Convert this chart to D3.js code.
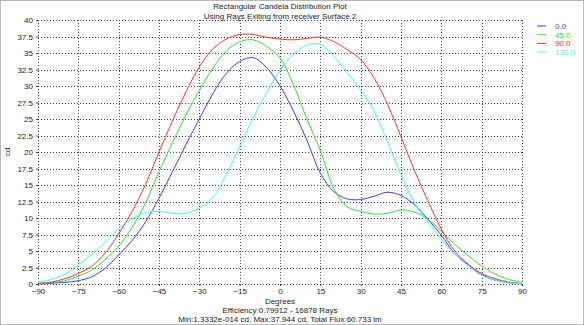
<!DOCTYPE html>
<html><head><meta charset="utf-8">
<script src="https://cdn.jsdelivr.net/npm/d3@7"></script>
<style>body{margin:0;background:#fff;}svg{display:block;}text{font-family:"Liberation Sans",Arial,sans-serif;}</style>
</head><body>
<script>
const degrees = [-90,-85,-80,-75,-70,-65,-60,-55,-50,-45,-40,-35,-30,-25,-20,-15,-10,-5,0,5,10,15,20,25,30,35,40,45,50,55,60,65,70,75,80,85,90];
const s0   = [0.0,0.1,0.25,0.5,1.1,2.4,4.4,6.6,9.4,13.0,17.0,21.1,25.0,28.8,31.9,33.7,34.3,32.8,30.0,26.2,21.8,16.8,14.0,12.9,12.8,13.3,13.9,13.4,12.0,9.8,7.4,4.6,2.9,1.4,0.6,0.2,0.05];
const s45  = [0.05,0.2,0.5,1.2,2.1,3.7,5.7,8.6,12.3,17.0,21.4,25.6,29.3,32.7,35.3,36.7,37.0,36.0,34.2,30.2,25.0,20.2,14.5,11.7,11.0,10.6,10.7,11.2,10.9,9.8,8.0,6.0,4.3,2.7,1.5,0.7,0.25];
const s90  = [0.1,0.3,0.8,1.6,2.7,4.7,7.6,11.0,15.1,20.0,24.7,29.1,32.9,35.6,37.1,37.8,37.8,37.4,37.1,37.0,37.2,37.4,36.7,35.5,34.0,31.2,27.2,22.3,17.2,12.6,8.3,5.0,3.0,1.6,0.8,0.3,0.05];
const s135 = [0.3,0.7,1.5,2.9,4.5,6.3,8.4,9.9,10.8,11.0,10.7,10.7,11.5,13.1,16.6,20.8,25.2,29.0,32.4,34.8,36.2,36.3,34.5,32.0,29.4,26.2,21.5,16.5,12.3,9.4,6.8,4.5,2.8,1.3,0.6,0.2,0.05];
const seriesNames = ["0.0","45.0","90.0","135.0"];
const seriesColors = ["#3a3aff","#2ee02e","#ff3030","#30ffff"];
const xTicks = [-90,-75,-60,-45,-30,-15,0,15,30,45,60,75,90];
const yTicks = [0,2.5,5,7.5,10,12.5,15,17.5,20,22.5,25,27.5,30,32.5,35,37.5,40];
const titleLines = ["Rectangular Candela Distribution Plot","Using Rays Exiting from receiver Surface 2"];
const footLines = ["Degrees","Efficiency:0.79912 - 16878 Rays","Min:1.3332e-014 cd, Max:37.944 cd, Total Flux:60.733 lm"];

const W=584,H=325;
const svg=d3.select("body").append("svg").attr("width",W).attr("height",H);
svg.append("rect").attr("x",0.5).attr("y",0.5).attr("width",W-1).attr("height",H-1).attr("fill","#fff").attr("stroke","#b8b8b8");

const x=d3.scaleLinear().domain([-90,90]).range([38,522]);
const y=d3.scaleLinear().domain([0,40]).range([284,20]);

const grid=svg.append("g").attr("stroke","#444").attr("stroke-width",1).attr("stroke-dasharray","1,2").attr("shape-rendering","crispEdges");
xTicks.forEach(t=>grid.append("line").attr("x1",Math.round(x(t))+0.5).attr("x2",Math.round(x(t))+0.5).attr("y1",y(40)).attr("y2",y(0)));
yTicks.forEach(t=>grid.append("line").attr("y1",Math.round(y(t))+0.5).attr("y2",Math.round(y(t))+0.5).attr("x1",x(-90)).attr("x2",x(90)));

const xAxis=svg.append("g").attr("transform","translate(0,284)").call(d3.axisBottom(x).tickValues(xTicks).tickSize(2).tickPadding(2).tickFormat(d3.format("d")));
const yAxis=svg.append("g").attr("transform","translate(38,0)").call(d3.axisLeft(y).tickValues(yTicks).tickSize(2).tickFormat(d=>String(d)));
[xAxis,yAxis].forEach(a=>{a.select(".domain").remove();a.selectAll("line").attr("stroke","#444");a.selectAll("text").attr("font-size","8px").attr("fill","#222").attr("font-family","Liberation Sans, Arial, sans-serif");});
xAxis.selectAll("text").attr("dy","0.75em");

const all=[s0,s45,s90,s135];
const line=d3.line().x((d,i)=>x(degrees[i])).y(d=>y(d)).curve(d3.curveCatmullRom.alpha(0.5));
all.forEach((s,k)=>svg.append("path").datum(s).attr("d",line).attr("fill","none").attr("stroke",seriesColors[k]).attr("stroke-width",1));

const lg=svg.append("g");
seriesNames.forEach((n,k)=>{
  const yy=26+k*8.7;
  lg.append("line").attr("x1",537).attr("x2",546).attr("y1",yy).attr("y2",yy).attr("stroke",seriesColors[k]);
  lg.append("text").attr("x",555).attr("y",yy).attr("dy","0.35em").attr("font-size","8px").attr("fill",seriesColors[k]).text(n);
});

titleLines.forEach((t,i)=>svg.append("text").attr("x",280).attr("y",6+i*10).attr("dy","0.35em").attr("text-anchor","middle").attr("font-size","8px").attr("fill","#222").text(t));
footLines.forEach((t,i)=>svg.append("text").attr("x",280).attr("y",301+i*9.3).attr("dy","0.35em").attr("text-anchor","middle").attr("font-size","8px").attr("fill","#222").text(t));
svg.append("text").attr("transform","translate(7,152) rotate(-90)").attr("text-anchor","middle").attr("dy","0.35em").attr("font-size","8px").attr("fill","#222").text("cd");
</script>
</body></html>
